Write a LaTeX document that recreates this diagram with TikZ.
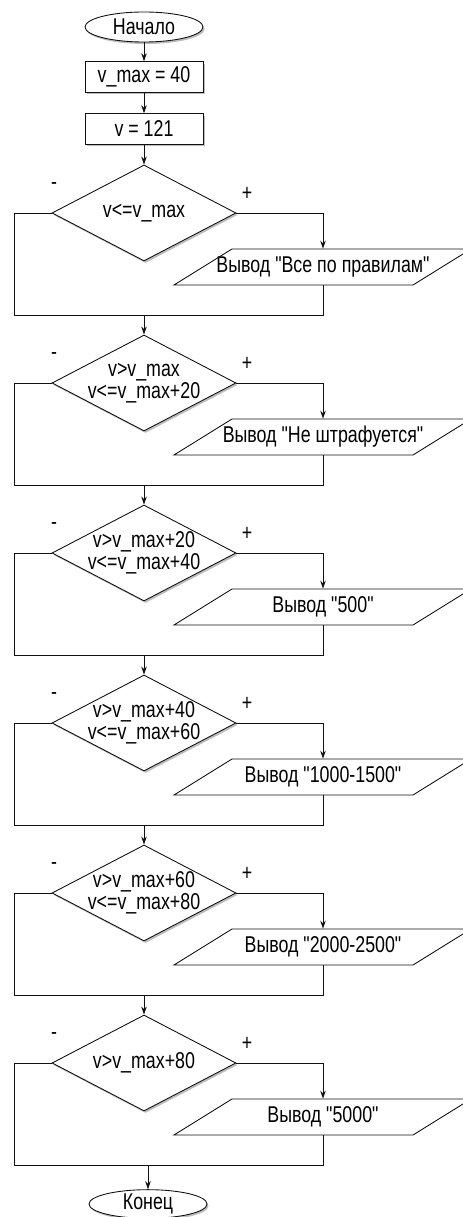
\documentclass[tikz,border=0pt]{standalone}
\usepackage{fontspec}
\setmainfont{Liberation Sans}[FakeStretch=0.78,Ligatures=TeXOff]
\usepackage{tikz}
\usetikzlibrary{arrows.meta,positioning,shapes.geometric,shadows}
\definecolor{ink}{HTML}{111111}
\definecolor{shade}{HTML}{BDBDBD}
\tikzset{
  flowfont/.style={font=\fontsize{13pt}{10.2pt}\selectfont},
  softshadow/.style={drop shadow={shadow xshift=0.3mm,shadow yshift=-0.4mm,
                     fill=shade,opacity=1}},
  terminal/.style={ellipse,draw=ink,fill=white,line width=0.5pt,inner sep=0pt,
                   minimum width=23.6mm,minimum height=6mm,flowfont,softshadow},
  procbox/.style={rectangle,draw=ink,fill=white,line width=0.5pt,inner sep=0pt,
                  minimum width=23.6mm,minimum height=6.1mm,flowfont,softshadow},
  decision/.style={diamond,aspect=2,draw=ink,fill=white,line width=0.5pt,
                   inner sep=-1.2mm,minimum width=36.8mm,minimum height=19.2mm,
                   align=center,flowfont,softshadow},
  iotext/.style={inner sep=0pt,minimum height=7.2mm,flowfont},
  iopath/.style={draw=ink,line width=0.5pt},
  branch/.style={inner sep=0pt,flowfont},
  wire/.style={draw=ink,line width=0.5pt},
  arr/.style={wire,-{Stealth[length=1.6mm,width=1.1mm]}}
}
\begin{document}
\begin{tikzpicture}[x=0.2mm,y=-0.2mm]
  \path[use as bounding box] (0,0) rectangle (463,1217);
  \node[terminal] (start) at (144,27) {Начало};
  \node[procbox] (vmax) at (144,77) {v\_max = 40};
  \node[procbox] (vset) at (144,129) {v = 121};
  \draw[arr] (start) -- (vmax);
  \draw[arr] (vmax) -- (vset);

  % v <= v_max
  \node[decision] (check1) at (144,213) {v<=v\_max};
  \node[iotext] (out1) at (323,267) {Вывод "Все по правилам"};
  \draw[iopath] ([shift={(-91,-18)}]out1.center) -- ++(239,0) -- ++(-58,36) -- ++(-239,0) -- cycle;
  \node[branch] (no1) at (54,186) {-};
  \node[branch] (yes1) at (247,194) {+};
  \coordinate (jl1) at (14,315);
  \coordinate (jr1) at (323,315);
  \draw[arr] (vset) -- (check1);
  \draw[arr] (check1.east) -| (out1.north);
  \draw[wire] (check1.west) -| (jl1) -- (jr1) -- (out1.south);

  % up to +20
  \node[decision] (check2) at (144,383) {v>v\_max\\v<=v\_max+20};
  \node[iotext] (out2) at (323,437) {Вывод "Не штрафуется"};
  \draw[iopath] ([shift={(-91,-18)}]out2.center) -- ++(239,0) -- ++(-58,36) -- ++(-239,0) -- cycle;
  \node[branch] (no2) at (54,356) {-};
  \node[branch] (yes2) at (247,364) {+};
  \coordinate (jl2) at (14,485);
  \coordinate (jr2) at (323,485);
  \draw[arr] (jl1 -| check1.south) -- (check2.north);
  \draw[arr] (check2.east) -| (out2.north);
  \draw[wire] (check2.west) -| (jl2) -- (jr2) -- (out2.south);

  % up to +40
  \node[decision] (check3) at (144,553) {v>v\_max+20\\v<=v\_max+40};
  \node[iotext] (out3) at (323,607) {Вывод "500"};
  \draw[iopath] ([shift={(-91,-18)}]out3.center) -- ++(239,0) -- ++(-58,36) -- ++(-239,0) -- cycle;
  \node[branch] (no3) at (54,526) {-};
  \node[branch] (yes3) at (247,534) {+};
  \coordinate (jl3) at (14,655);
  \coordinate (jr3) at (323,655);
  \draw[arr] (jl2 -| check2.south) -- (check3.north);
  \draw[arr] (check3.east) -| (out3.north);
  \draw[wire] (check3.west) -| (jl3) -- (jr3) -- (out3.south);

  % up to +60
  \node[decision] (check4) at (144,723) {v>v\_max+40\\v<=v\_max+60};
  \node[iotext] (out4) at (323,777) {Вывод "1000-1500"};
  \draw[iopath] ([shift={(-91,-18)}]out4.center) -- ++(239,0) -- ++(-58,36) -- ++(-239,0) -- cycle;
  \node[branch] (no4) at (54,696) {-};
  \node[branch] (yes4) at (247,704) {+};
  \coordinate (jl4) at (14,825);
  \coordinate (jr4) at (323,825);
  \draw[arr] (jl3 -| check3.south) -- (check4.north);
  \draw[arr] (check4.east) -| (out4.north);
  \draw[wire] (check4.west) -| (jl4) -- (jr4) -- (out4.south);

  % up to +80
  \node[decision] (check5) at (144,893) {v>v\_max+60\\v<=v\_max+80};
  \node[iotext] (out5) at (323,947) {Вывод "2000-2500"};
  \draw[iopath] ([shift={(-91,-18)}]out5.center) -- ++(239,0) -- ++(-58,36) -- ++(-239,0) -- cycle;
  \node[branch] (no5) at (54,866) {-};
  \node[branch] (yes5) at (247,874) {+};
  \coordinate (jl5) at (14,995);
  \coordinate (jr5) at (323,995);
  \draw[arr] (jl4 -| check4.south) -- (check5.north);
  \draw[arr] (check5.east) -| (out5.north);
  \draw[wire] (check5.west) -| (jl5) -- (jr5) -- (out5.south);

  % above +80
  \node[decision] (check6) at (144,1063) {v>v\_max+80};
  \node[iotext] (out6) at (323,1117) {Вывод "5000"};
  \draw[iopath] ([shift={(-91,-18)}]out6.center) -- ++(239,0) -- ++(-58,36) -- ++(-239,0) -- cycle;
  \node[branch] (no6) at (54,1036) {-};
  \node[branch] (yes6) at (247,1044) {+};
  \coordinate (jl6) at (14,1165);
  \coordinate (jr6) at (323,1165);
  \draw[arr] (jl5 -| check5.south) -- (check6.north);
  \draw[arr] (check6.east) -| (out6.north);
  \draw[wire] (check6.west) -| (jl6) -- (jr6) -- (out6.south);

  \node[terminal,minimum height=5.6mm] (stop) at (148,1204) {Конец};
  \draw[arr] (jl6 -| stop.north) -- (stop.north);
\end{tikzpicture}
\end{document}
